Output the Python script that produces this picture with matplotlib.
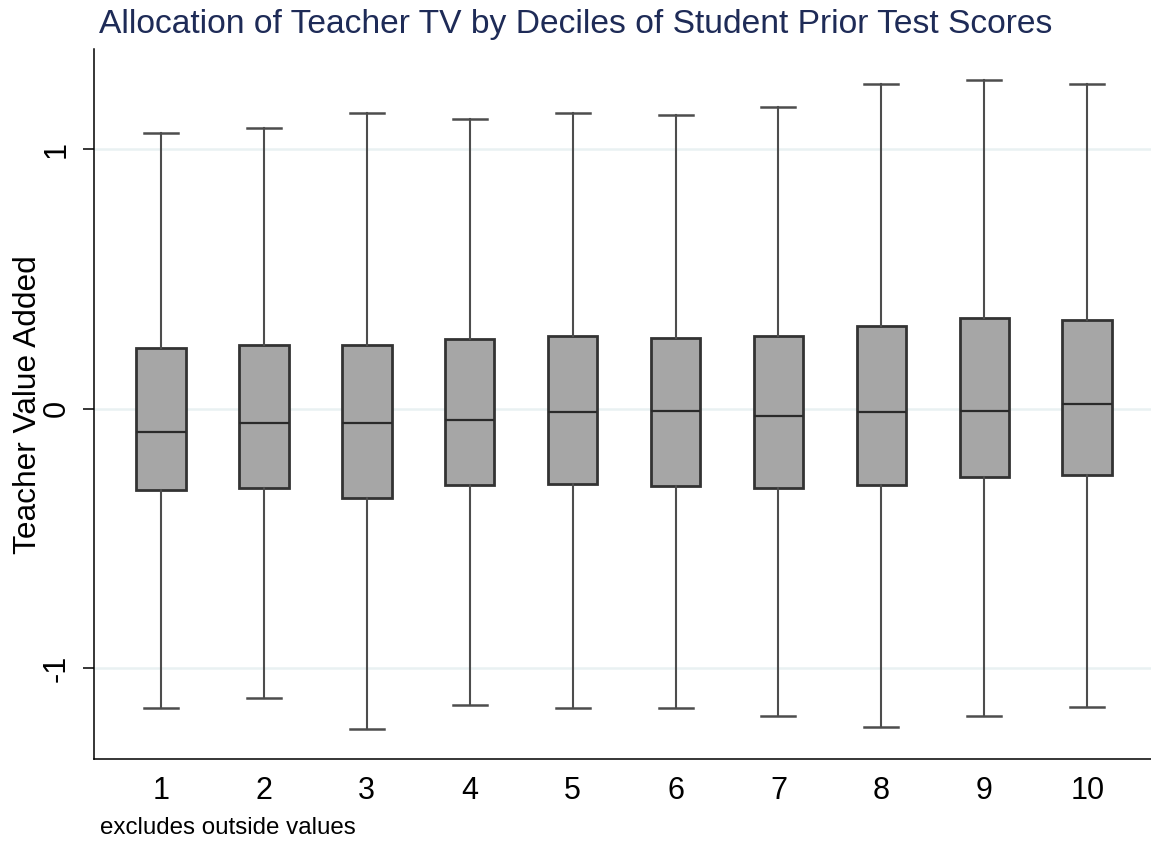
import matplotlib
matplotlib.use("Agg")
import matplotlib.pyplot as plt

plt.rcParams["font.family"] = ["Liberation Sans", "DejaVu Sans"]

deciles = ["1", "2", "3", "4", "5", "6", "7", "8", "9", "10"]
whis_hi = [1.062, 1.081, 1.139, 1.116, 1.139, 1.134, 1.165, 1.251, 1.268, 1.251]
q3 = [0.234, 0.245, 0.245, 0.269, 0.279, 0.273, 0.279, 0.318, 0.350, 0.341]
median = [-0.089, -0.054, -0.055, -0.042, -0.014, -0.008, -0.028, -0.014, -0.008, 0.019]
q1 = [-0.314, -0.305, -0.343, -0.293, -0.289, -0.298, -0.305, -0.292, -0.262, -0.255]
whis_lo = [-1.154, -1.113, -1.233, -1.143, -1.154, -1.154, -1.186, -1.225, -1.186, -1.148]

stats = []
for i, lab in enumerate(deciles):
    stats.append(dict(label=lab, med=median[i], q1=q1[i], q3=q3[i],
                      whislo=whis_lo[i], whishi=whis_hi[i], fliers=[]))

fig = plt.figure(figsize=(11.51, 8.42), dpi=100)
ax = fig.add_axes([94.3 / 1151, 1 - 759 / 842, 1 - 94.3 / 1151, (759 - 49) / 842])

# light horizontal grid at the y ticks
for yv in [-1, 0, 1]:
    ax.axhline(yv, color="#E9F1F2", lw=1.8, zorder=0)

positions = list(range(1, len(deciles) + 1))
ax.bxp(stats, positions=positions, widths=0.48, capwidths=0.33,
       patch_artist=True, showfliers=False,
       boxprops=dict(facecolor="#A6A6A6", edgecolor="#333333", linewidth=2.0),
       medianprops=dict(color="#2A2A2A", linewidth=1.6),
       whiskerprops=dict(color="#4D4D4D", linewidth=1.5),
       capprops=dict(color="#4D4D4D", linewidth=1.8))

ax.set_xlim(0.352, 10.62)
ax.set_ylim(-1.350, 1.387)

ax.set_yticks([-1, 0, 1])
ax.set_yticklabels(["-1", "0", "1"], rotation=90, va="center", fontsize=22)
ax.tick_params(axis="y", length=8, width=1.1, pad=8, color="black")
ax.tick_params(axis="x", length=0, pad=12, labelsize=22)
ax.set_xticks(positions)
ax.set_xticklabels(deciles)

for s in ["top", "right"]:
    ax.spines[s].set_visible(False)
for s in ["left", "bottom"]:
    ax.spines[s].set_linewidth(1.1)
    ax.spines[s].set_color("black")

fig.text(28 / 1151, 1 - 405 / 842, "Teacher Value Added", rotation=90,
         ha="center", va="center", fontsize=22.8)
fig.text(99 / 1151, 1 - 33 / 842, "Allocation of Teacher TV by Deciles of Student Prior Test Scores",
         ha="left", va="baseline", fontsize=24.2, color="#1E2B57")
fig.text(100 / 1151, 1 - 828 / 842, "excludes outside values",
         ha="left", va="center", fontsize=17.4)

fig.savefig("out.png", dpi=100)
